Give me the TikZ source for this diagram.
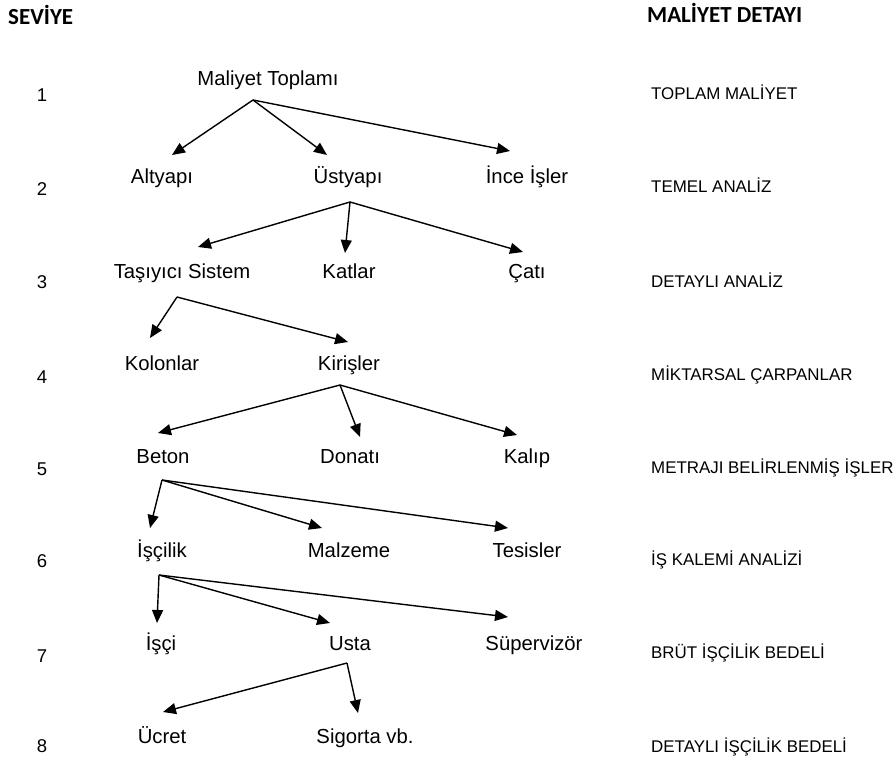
\documentclass[tikz,border=0pt]{standalone}
\usepackage{fontspec}
\setmainfont{Liberation Sans}
\newfontfamily\headfont{Carlito}
\usetikzlibrary{arrows.meta}

\begin{document}
\begin{tikzpicture}[x=1pt,y=-1pt,
  item/.style={anchor=base,inner sep=0pt,font=\fontsize{20.3}{24}\selectfont},
  levelnum/.style={anchor=base,inner sep=0pt,font=\fontsize{18.5}{22}\selectfont},
  detail/.style={anchor=base west,inner sep=0pt,font=\fontsize{16.9}{21}\selectfont},
  head/.style={anchor=base west,inner sep=0pt,font=\headfont\bfseries\fontsize{23}{27}\selectfont},
  link/.style={line width=1.4pt,-{Triangle[length=13pt,width=11pt]}}]

\useasboundingbox (0,0) rectangle (896,762);

% column headings
\node[head] (hlevel) at (8,25) {SEVİYE};
\node[head] (hdetail) at (647,23) {MALİYET DETAYI};

% level numbers
\node[levelnum] (n1) at (42,102) {1};
\node[levelnum] (n2) at (42,195) {2};
\node[levelnum] (n3) at (42,288) {3};
\node[levelnum] (n4) at (42,383) {4};
\node[levelnum] (n5) at (42,475) {5};
\node[levelnum] (n6) at (42,567) {6};
\node[levelnum] (n7) at (42,662) {7};
\node[levelnum] (n8) at (42,752) {8};

% cost detail per level
\node[detail] (d1) at (651,100) {TOPLAM MALİYET};
\node[detail] (d2) at (651,193) {TEMEL ANALİZ};
\node[detail] (d3) at (651,287) {DETAYLI ANALİZ};
\node[detail] (d4) at (651,380) {MİKTARSAL ÇARPANLAR};
\node[detail] (d5) at (651,473) {METRAJI BELİRLENMİŞ İŞLER};
\node[detail] (d6) at (651,565) {İŞ KALEMİ ANALİZİ};
\node[detail] (d7) at (651,658) {BRÜT İŞÇİLİK BEDELİ};
\node[detail] (d8) at (651,752) {DETAYLI İŞÇİLİK BEDELİ};

% breakdown tree
\node[item] (top)  at (268,86)  {Maliyet Toplamı};

\node[item] (alt)  at (162,184) {Altyapı};
\node[item] (ust)  at (348,184) {Üstyapı};
\node[item] (ince) at (527,184) {İnce İşler};

\node[item] (tas)  at (182,278) {Taşıyıcı Sistem};
\node[item] (kat)  at (349,278) {Katlar};
\node[item] (cati) at (527,278) {Çatı};

\node[item] (kol)  at (162,370) {Kolonlar};
\node[item] (kir)  at (349,370) {Kirişler};

\node[item] (bet)  at (163,463) {Beton};
\node[item] (don)  at (350,463) {Donatı};
\node[item] (kal)  at (527,463) {Kalıp};

\node[item] (isc)  at (162,557) {İşçilik};
\node[item] (mal)  at (349,557) {Malzeme};
\node[item] (tes)  at (527,557) {Tesisler};

\node[item] (isci) at (161,650) {İşçi};
\node[item] (usta) at (350,650) {Usta};
\node[item] (sup)  at (534,650) {Süpervizör};

\node[item] (ucr)  at (162,743) {Ücret};
\node[item] (sig)  at (365,743) {Sigorta vb.};

% fork points under each parent
\coordinate (top-fork)  at (253,100);
\coordinate (ust-fork)  at (350,202);
\coordinate (tas-fork)  at (177,297);
\coordinate (kir-fork)  at (340,385);
\coordinate (bet-fork)  at (162,480);
\coordinate (isc-fork)  at (159,575);
\coordinate (usta-fork) at (347,663);

% arrow tips above each child
\coordinate (alt-in)  at (172,155);
\coordinate (ust-in)  at (327,155);
\coordinate (ince-in) at (510,151);
\coordinate (tas-in)  at (198,247);
\coordinate (kat-in)  at (345,253);
\coordinate (cati-in) at (523,252);
\coordinate (kol-in)  at (150,338);
\coordinate (kir-in)  at (348,342);
\coordinate (bet-in)  at (158,433);
\coordinate (don-in)  at (360,437);
\coordinate (kal-in)  at (517,435);
\coordinate (isc-in)  at (150,528);
\coordinate (mal-in)  at (322,528);
\coordinate (tes-in)  at (508,528);
\coordinate (isci-in) at (157,623);
\coordinate (usta-in) at (330,623);
\coordinate (sup-in)  at (508,617);
\coordinate (ucr-in)  at (163,712);
\coordinate (sig-in)  at (358,713);

\draw[link] (top-fork) -- (alt-in);
\draw[link] (top-fork) -- (ust-in);
\draw[link] (top-fork) -- (ince-in);

\draw[link] (ust-fork) -- (tas-in);
\draw[link] (ust-fork) -- (kat-in);
\draw[link] (ust-fork) -- (cati-in);

\draw[link] (tas-fork) -- (kol-in);
\draw[link] (tas-fork) -- (kir-in);

\draw[link] (kir-fork) -- (bet-in);
\draw[link] (kir-fork) -- (don-in);
\draw[link] (kir-fork) -- (kal-in);

\draw[link] (bet-fork) -- (isc-in);
\draw[link] (bet-fork) -- (mal-in);
\draw[link] (bet-fork) -- (tes-in);

\draw[link] (isc-fork) -- (isci-in);
\draw[link] (isc-fork) -- (usta-in);
\draw[link] (isc-fork) -- (sup-in);

\draw[link] (usta-fork) -- (ucr-in);
\draw[link] (usta-fork) -- (sig-in);

\end{tikzpicture}
\end{document}
